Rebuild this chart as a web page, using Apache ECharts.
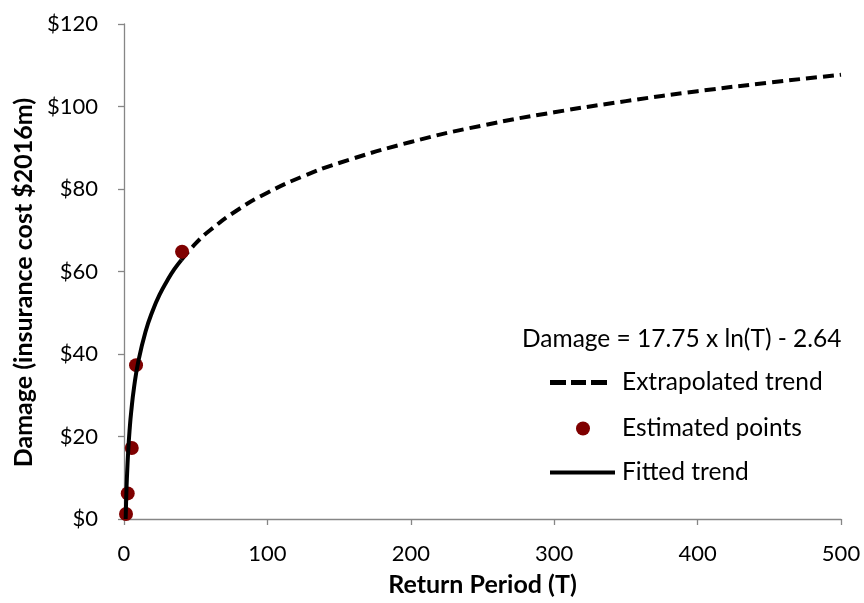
<!DOCTYPE html>
<html>
<head>
<meta charset="utf-8">
<title>Damage vs Return Period</title>
<script src="https://cdn.jsdelivr.net/npm/echarts@6/dist/echarts.min.js"></script>
<style>
  html, body { margin: 0; padding: 0; background: #fff; }
  #chart { width: 864px; height: 603px; }
</style>
</head>
<body>
<div id="chart"></div>
<script>
// Estimated damage points (return period in years, damage in $2016m)
const pointT = [1.4, 2.6, 5.4, 8.4, 40.5];
const pointDamage = [1.2, 6.2, 17.2, 37.3, 64.8];

// Fitted logarithmic trend over the observed range
const fittedT = [1.16, 1.5, 2, 3, 4, 5, 7, 10, 15, 20, 25, 30, 35, 40];
const fittedDamage = [0, 4.6, 9.7, 16.9, 22.0, 25.9, 31.9, 38.2, 45.4, 50.5, 54.5, 57.7, 60.5, 62.8];

// Trend extended beyond the observed range
const extrapT = [40, 50, 60, 80, 100, 125, 150, 200, 250, 300, 350, 400, 450, 500];
const extrapDamage = [62.8, 66.8, 70.0, 75.1, 79.1, 83.1, 86.3, 91.4, 95.4, 98.6, 101.3, 103.7, 105.8, 107.7];

const equationText = 'Damage = 17.75 x ln(T) - 2.64';

const zip = (xs, ys) => xs.map((x, i) => [x, ys[i]]);

const FONT = 'Lato, "Open Sans", sans-serif';
const AXIS_GREY = '#868686';
const POINT_RED = '#7f0000';
const LEGEND_FONT = 24.5;

// Legend glyphs: three short bars for the dashed trend, one bar for the solid trend
const DASH_ICON = 'path://M0,0h16v5h-16z M21,0h15v5h-15z M41,0h16v5h-16z';
const SOLID_ICON = 'path://M0,0h65v4h-65z';

const legendText = (padLeft) => ({
  fontFamily: FONT, fontSize: LEGEND_FONT, color: '#000', padding: [0, 0, 0, padLeft]
});

const chart = echarts.init(document.getElementById('chart'), null, { renderer: 'canvas' });

chart.setOption({
  animation: false,
  backgroundColor: '#ffffff',
  textStyle: { fontFamily: FONT, color: '#000' },
  grid: { left: 124, right: 23, top: 24, bottom: 84, containLabel: false },
  title: {
    text: equationText,
    left: 522,
    top: 327,
    padding: 0,
    textStyle: { fontFamily: FONT, fontSize: LEGEND_FONT, fontWeight: 'normal', color: '#000' }
  },
  legend: [
    {
      data: [{ name: 'Extrapolated trend', icon: DASH_ICON }],
      left: 550, top: 370, padding: 0,
      itemWidth: 57, itemHeight: 5, itemGap: 0,
      textStyle: legendText(10)
    },
    {
      data: [{ name: 'Estimated points', icon: 'circle' }],
      left: 576, top: 416, padding: 0,
      itemWidth: 14, itemHeight: 14, itemGap: 0,
      textStyle: legendText(27)
    },
    {
      data: [{ name: 'Fitted trend', icon: SOLID_ICON }],
      left: 550, top: 460, padding: 0,
      itemWidth: 65, itemHeight: 4, itemGap: 0,
      textStyle: legendText(2)
    }
  ],
  xAxis: {
    type: 'value',
    min: 0, max: 500, interval: 100,
    name: 'Return Period (T)',
    nameLocation: 'middle',
    nameGap: 53,
    nameTextStyle: { fontFamily: FONT, fontSize: 25, fontWeight: 'bold', color: '#000' },
    axisLine: { show: true, lineStyle: { color: AXIS_GREY, width: 1.3 } },
    axisTick: { show: true, length: 6, lineStyle: { color: AXIS_GREY, width: 1.3 } },
    axisLabel: { fontFamily: FONT, fontSize: 22, color: '#000', margin: 24 },
    splitLine: { show: false }
  },
  yAxis: {
    type: 'value',
    min: 0, max: 120, interval: 20,
    name: 'Damage (insurance cost $2016m)',
    nameLocation: 'middle',
    nameGap: 86,
    nameRotate: 90,
    nameTextStyle: {
      fontFamily: FONT, fontSize: 25, fontWeight: 'bold', color: '#000',
      padding: [0, 22, 0, 0]
    },
    axisLine: { show: true, lineStyle: { color: AXIS_GREY, width: 1.3 } },
    axisTick: { show: true, length: 6, lineStyle: { color: AXIS_GREY, width: 1.3 } },
    axisLabel: {
      fontFamily: FONT, fontSize: 22, color: '#000', margin: 26,
      formatter: v => '$' + v
    },
    splitLine: { show: false }
  },
  series: [
    {
      name: 'Extrapolated trend',
      type: 'line',
      data: zip(extrapT, extrapDamage),
      smooth: true,
      symbol: 'none',
      clip: true,
      lineStyle: { color: '#000', width: 4, type: [11, 6] },
      itemStyle: { color: '#000' },
      z: 2
    },
    {
      name: 'Estimated points',
      type: 'scatter',
      data: zip(pointT, pointDamage),
      symbol: 'circle',
      symbolSize: 14,
      itemStyle: { color: POINT_RED, opacity: 1 },
      z: 3
    },
    {
      name: 'Fitted trend',
      type: 'line',
      data: zip(fittedT, fittedDamage),
      smooth: true,
      symbol: 'none',
      clip: true,
      lineStyle: { color: '#000', width: 4 },
      itemStyle: { color: '#000' },
      z: 4
    }
  ]
});
</script>
</body>
</html>
